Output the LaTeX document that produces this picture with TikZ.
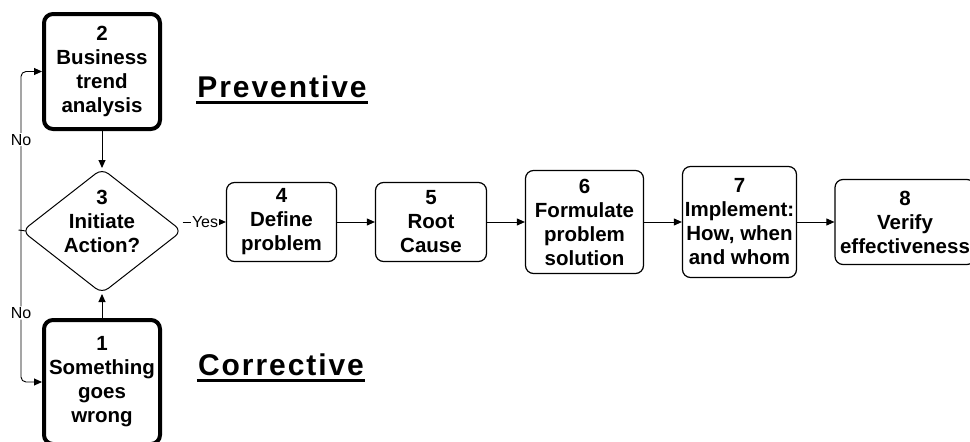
\documentclass[tikz,border=0pt]{standalone}
\usepackage{fontspec}
\setmainfont{Liberation Sans}
\usetikzlibrary{shapes.geometric,arrows.meta}
\begin{document}
\begin{tikzpicture}[x=1pt,y=-1pt,
 every node/.style={font=\fontsize{20.5}{24}\selectfont\bfseries, align=center},
 box/.style={draw, rounded corners=8pt, line width=1.2pt, inner sep=0pt},
 bigbox/.style={draw, rounded corners=9pt, line width=4pt, minimum width=116pt, minimum height=115pt, inner sep=0pt},
 arr/.style={-{Triangle[length=8pt,width=7pt]}, line width=0.9pt},
 lbl/.style={font=\fontsize{16}{18}\selectfont, fill=white, inner sep=1pt},
 title/.style={font=\fontsize{30}{34}\selectfont\bfseries\addfontfeature{LetterSpace=6.5}, inner sep=1pt, anchor=base}]
\useasboundingbox (0,0) rectangle (970,442);
\clip (0,0) rectangle (970,442);

\node[bigbox] (b2) at (102,71.5) {2\\Business\\trend\\analysis};
\node[bigbox, minimum height=124pt] (b1) at (102,382) {1\\Something\\goes\\wrong};
\node[diamond, draw, rounded corners=8pt, line width=1pt, minimum width=160pt, minimum height=125pt, inner sep=0pt] (d) at (102,231) {};
\node (dt) at (102,221) {3\\Initiate\\Action?};

\node[box, minimum width=110pt, minimum height=79pt] (b4) at (281.5,222) {4\\Define\\problem};
\node[box, minimum width=111pt, minimum height=79pt] (b5) at (431,222) {5\\Root\\Cause};
\node[box, minimum width=118pt, minimum height=103pt] (b6) at (584.5,222) {6\\Formulate\\problem\\solution};
\node[box, minimum width=114pt, minimum height=111pt] (b7) at (739.5,222) {7\\Implement:\\How, when\\and whom};
\node[box, minimum width=140pt, minimum height=85pt] (b8) at (905,222) {8\\Verify\\effectiveness};

\node[title] (pv) at (282,97) {Preventive};
\draw[line width=3pt] ([yshift=-5pt]pv.base west) -- ([yshift=-5pt]pv.base east);
\node[title] (cv) at (281,375) {Corrective};
\draw[line width=3pt] ([yshift=-5pt]cv.base west) -- ([yshift=-5pt]cv.base east);

\draw[arr] (b2.south) -- (d.north);
\draw[arr] (b1.north) -- (d.south);
\draw[arr] (d.east |- b4.west) -- node[lbl, pos=0.52]{Yes} (b4.west);
\draw[arr] (b4.east) -- (b5.west);
\draw[arr] (b5.east) -- (b6.west);
\draw[arr] (b6.east) -- (b7.west);
\draw[arr] (b7.east) -- (b8.west);

\coordinate (lx) at (21,230);
\coordinate (ls) at (18.5,230);
\draw[line width=0.9pt] ([xshift=4.5pt]d.west) -- (ls);
\draw[arr, rounded corners=5pt] (lx) |- node[lbl,pos=0.285]{No} (b2.west);
\draw[arr, rounded corners=5pt] (lx) |- node[lbl,pos=0.273]{No} (b1.west);
\end{tikzpicture}
\end{document}
